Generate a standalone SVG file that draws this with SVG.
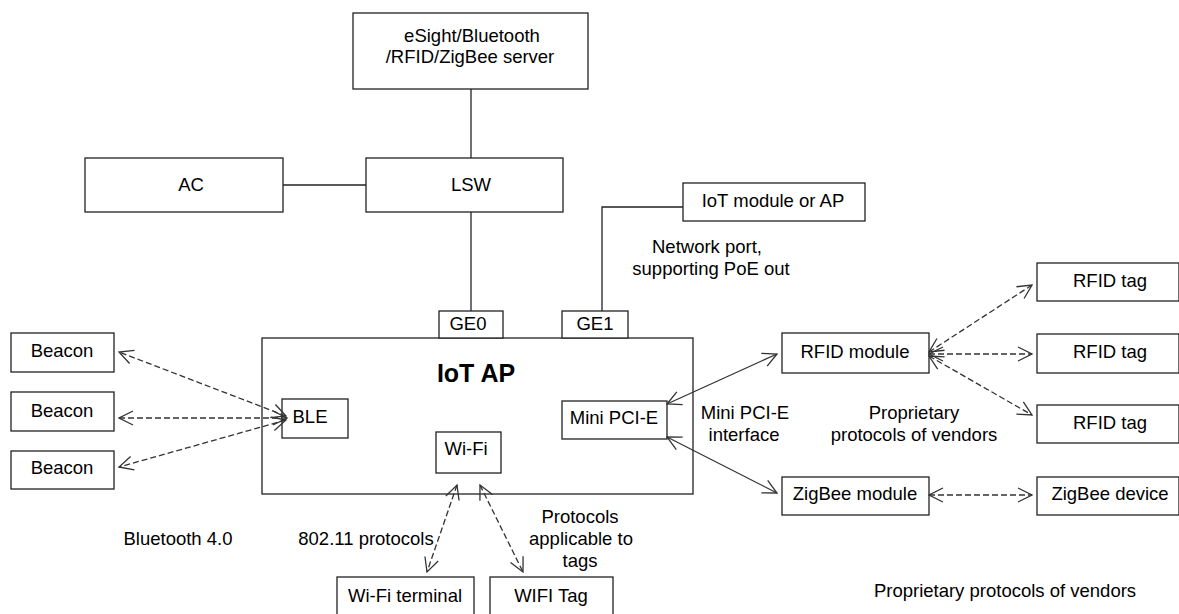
<svg xmlns="http://www.w3.org/2000/svg" width="1179" height="614" viewBox="0 0 1179 614">
  <style>
    .box { fill: #fff; stroke: #222; stroke-width: 1.3; }
    .t { font-family: "Liberation Sans", Arial, sans-serif; font-size: 18.5px; fill: #000; text-anchor: middle; }
    .b { font-weight: bold; font-size: 25px; }
    .ln { fill: none; stroke: #222; stroke-width: 1.3; }
    .da { fill: none; stroke: #333; stroke-width: 1.3; stroke-dasharray: 6 3; marker-start: url(#ah); marker-end: url(#ah); }
    .sa { fill: none; stroke: #333; stroke-width: 1.3; marker-start: url(#ah); marker-end: url(#ah); }
  </style>
  <defs>
    <marker id="ah" viewBox="0 0 16 16" refX="15" refY="8" markerWidth="16" markerHeight="16" markerUnits="userSpaceOnUse" orient="auto-start-reverse">
      <path d="M1,1 L15,8 L1,15" fill="none" stroke="#333" stroke-width="1.3"/>
    </marker>
  </defs>

  <rect width="1179" height="614" fill="#fff"/>

  <g id="server">
    <rect class="box" x="353" y="13" width="235" height="76"/>
    <text class="t" x="472" y="42">eSight/Bluetooth</text>
    <text class="t" x="470" y="63">/RFID/ZigBee server</text>
  </g>
  <g id="ac">
    <rect class="box" x="85" y="158" width="198" height="54"/>
    <text class="t" x="191" y="191">AC</text>
  </g>
  <g id="lsw">
    <rect class="box" x="366" y="158" width="197" height="54"/>
    <text class="t" x="471" y="191">LSW</text>
  </g>
  <g id="iot-module">
    <rect class="box" x="683" y="183" width="182" height="38"/>
    <text class="t" x="773" y="207">IoT module or AP</text>
  </g>
  <g id="poe-label">
    <text class="t" x="707" y="253">Network port,</text>
    <text class="t" x="711" y="275">supporting PoE out</text>
  </g>

  <g id="iot-ap">
    <rect class="box" x="262" y="338" width="431" height="156"/>
    <text class="t b" x="476" y="382">IoT AP</text>
  </g>
  <g id="ge0">
    <rect class="box" x="439" y="311" width="64" height="27"/>
    <text class="t" x="468" y="330">GE0</text>
  </g>
  <g id="ge1">
    <rect class="box" x="562" y="311" width="66" height="27"/>
    <text class="t" x="595" y="330">GE1</text>
  </g>
  <g id="ble">
    <rect class="box" x="282" y="399" width="66" height="39"/>
    <text class="t" x="310" y="423">BLE</text>
  </g>
  <g id="wifi">
    <rect class="box" x="436" y="432" width="65" height="41"/>
    <text class="t" x="466" y="455">Wi-Fi</text>
  </g>
  <g id="minipcie">
    <rect class="box" x="562" y="401" width="105" height="38"/>
    <text class="t" x="614" y="424">Mini PCI-E</text>
  </g>

  <g id="beacon1">
    <rect class="box" x="11" y="333" width="103" height="39"/>
    <text class="t" x="62" y="357">Beacon</text>
  </g>
  <g id="beacon2">
    <rect class="box" x="11" y="392" width="103" height="39"/>
    <text class="t" x="62" y="417">Beacon</text>
  </g>
  <g id="beacon3">
    <rect class="box" x="11" y="451" width="103" height="38"/>
    <text class="t" x="62" y="474">Beacon</text>
  </g>

  <g id="rfid-module">
    <rect class="box" x="782" y="333" width="147" height="40"/>
    <text class="t" x="855" y="358">RFID module</text>
  </g>
  <g id="rfid-tag1">
    <rect class="box" x="1037" y="263" width="142" height="38"/>
    <text class="t" x="1110" y="287">RFID tag</text>
  </g>
  <g id="rfid-tag2">
    <rect class="box" x="1037" y="334" width="142" height="39"/>
    <text class="t" x="1110" y="358">RFID tag</text>
  </g>
  <g id="rfid-tag3">
    <rect class="box" x="1037" y="405" width="142" height="38"/>
    <text class="t" x="1110" y="429">RFID tag</text>
  </g>
  <g id="zigbee-module">
    <rect class="box" x="782" y="477" width="147" height="38"/>
    <text class="t" x="855" y="500">ZigBee module</text>
  </g>
  <g id="zigbee-device">
    <rect class="box" x="1037" y="477" width="142" height="38"/>
    <text class="t" x="1110" y="500">ZigBee device</text>
  </g>

  <g id="wifi-terminal">
    <rect class="box" x="337" y="577" width="137" height="40"/>
    <text class="t" x="405" y="602">Wi-Fi terminal</text>
  </g>
  <g id="wifi-tag">
    <rect class="box" x="490" y="577" width="123" height="40"/>
    <text class="t" x="551" y="602">WIFI Tag</text>
  </g>

  <g id="labels">
    <text class="t" x="745" y="419">Mini PCI-E</text>
    <text class="t" x="744" y="441">interface</text>
    <text class="t" x="914" y="419">Proprietary</text>
    <text class="t" x="914" y="441">protocols of vendors</text>
    <text class="t" x="178" y="545">Bluetooth 4.0</text>
    <text class="t" x="366" y="545">802.11 protocols</text>
    <text class="t" x="580" y="523">Protocols</text>
    <text class="t" x="581" y="545">applicable to</text>
    <text class="t" x="580" y="567">tags</text>
    <text class="t" x="1005" y="597">Proprietary protocols of vendors</text>
  </g>

  <!-- connectors, drawn over the boxes -->
  <g id="connectors">
    <line class="ln" x1="471" y1="89" x2="471" y2="158"/>
    <line class="ln" x1="283" y1="185" x2="366" y2="185"/>
    <line class="ln" x1="471" y1="212" x2="471" y2="311"/>
    <polyline class="ln" points="683,207 602,207 602,311"/>
    <line class="da" x1="286" y1="416" x2="119" y2="352"/>
    <line class="da" x1="287" y1="418" x2="119" y2="418"/>
    <line class="da" x1="286" y1="420" x2="119" y2="467"/>
    <line class="da" x1="457" y1="485" x2="427" y2="572"/>
    <line class="da" x1="480" y1="485" x2="523" y2="572"/>
    <line class="sa" x1="667" y1="404" x2="777" y2="354"/>
    <line class="sa" x1="667" y1="437" x2="777" y2="493"/>
    <line class="da" x1="929" y1="352" x2="1032" y2="285"/>
    <line class="da" x1="929" y1="354" x2="1032" y2="354"/>
    <line class="da" x1="929" y1="356" x2="1032" y2="415"/>
    <line class="da" x1="929" y1="495" x2="1032" y2="495"/>
  </g>
</svg>
